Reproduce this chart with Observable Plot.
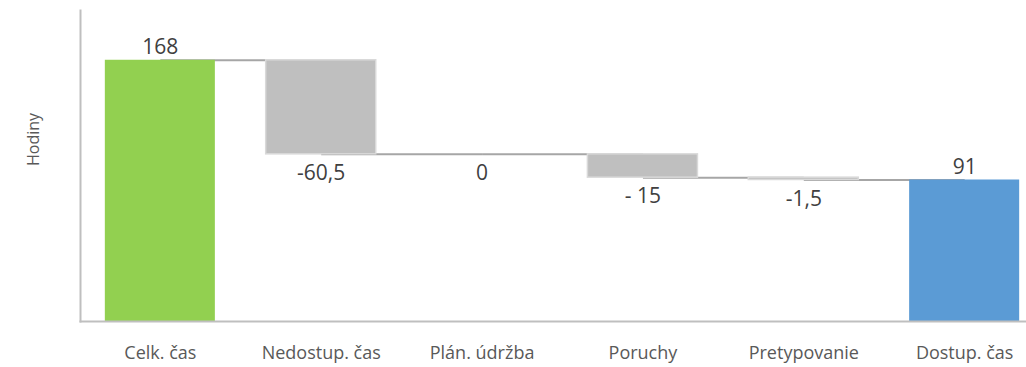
<!DOCTYPE html>
<html>
<head>
<meta charset="utf-8">
<script src="https://cdn.jsdelivr.net/npm/d3@7"></script>
<script src="https://cdn.jsdelivr.net/npm/@observablehq/plot@0.6"></script>
<style>
  html, body { margin: 0; padding: 0; background: #fff; }
  #chart svg { display: block; }
</style>
</head>
<body>
<div id="chart"></div>
<script>
const categories = ["Celk. čas", "Nedostup. čas", "Plán. údržba", "Poruchy", "Pretypovanie", "Dostup. čas"];
const values = [168, -60.5, 0, -15, -1.5, 91];
const kinds = ["total", "delta", "delta", "delta", "delta", "total"];
const valueLabels = ["168", "-60,5", "0", "- 15", "-1,5", "91"];
const barColors = ["#92D050", "#BFBFBF", "#BFBFBF", "#BFBFBF", "#BFBFBF", "#5B9BD5"];
const yAxisTitle = "Hodiny";

// build waterfall table
let running = 0;
const rows = categories.map((c, i) => {
  let y1, y2;
  if (kinds[i] === "total") { y1 = 0; y2 = values[i]; running = values[i]; }
  else { y1 = running; y2 = running + values[i]; running = y2; }
  return { cat: c, y1, y2, end: running, value: values[i], label: valueLabels[i], color: barColors[i], kind: kinds[i] };
});
const links = rows.slice(0, -1).map((r, i) => ({ a: r.cat, b: rows[i + 1].cat, y: r.end }));
const totals = rows.filter(r => r.kind === "total");
const deltas = rows.filter(r => r.kind === "delta");

const font = "'Open Sans', 'Noto Sans', sans-serif";

const chart = Plot.plot({
  width: 1026,
  height: 367,
  marginLeft: 80,
  marginRight: 0,
  marginTop: 10,
  marginBottom: 46,
  style: { fontFamily: font, background: "#fff" },
  x: { domain: categories, range: [54, 1070], padding: 0.316, round: false, axis: null },
  y: { domain: [0, 200], axis: null },
  marks: [
    Plot.link(links, { x1: "a", x2: "b", y1: "y", y2: "y", stroke: "#A6A6A6", strokeWidth: 2 }),
    Plot.barY(deltas, { x: "cat", y1: "y1", y2: "y2", fill: "color", stroke: "#D9D9D9", strokeWidth: 1.5 }),
    Plot.barY(totals, { x: "cat", y1: "y1", y2: "y2", fill: "color" }),
    Plot.text(totals, { x: "cat", y: "y2", text: "label", dy: -13, fontSize: 21, fill: "#404040" }),
    Plot.text(deltas, { x: "cat", y: d => Math.min(d.y1, d.y2), text: "label", dy: 19, fontSize: 21, fill: "#404040" }),
    Plot.axisX({ tickSize: 0, tickPadding: 25, fontSize: 18, fill: "#595959", label: null }),
    Plot.frame({ anchor: "left", stroke: "#BFBFBF", strokeWidth: 2 }),
    Plot.frame({ anchor: "bottom", stroke: "#BFBFBF", strokeWidth: 2 }),
    Plot.text([yAxisTitle], { frameAnchor: "left", dx: -47, rotate: -90, fontSize: 16, fill: "#595959" })
  ]
});
document.getElementById("chart").appendChild(chart);
</script>
</body>
</html>
